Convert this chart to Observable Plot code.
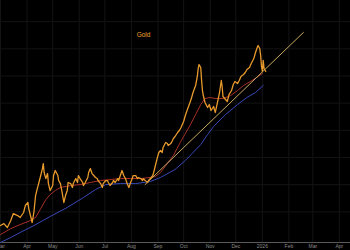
<!DOCTYPE html>
<html><head><meta charset="utf-8">
<script src="https://cdn.jsdelivr.net/npm/d3@7"></script>
<script src="https://cdn.jsdelivr.net/npm/@observablehq/plot@0.6"></script>
<style>html,body{margin:0;padding:0;background:#000;overflow:hidden}</style>
</head><body><div id="chart"></div>
<script>
const title = "Gold";

const priceDates = ["2025-03-01","2025-03-05","2025-03-09","2025-03-13","2025-03-16","2025-03-21","2025-03-24","2025-03-28","2025-03-30","2025-04-02","2025-04-03","2025-04-07","2025-04-09","2025-04-11","2025-04-13","2025-04-14","2025-04-17","2025-04-19","2025-04-20","2025-04-21","2025-04-23","2025-04-25","2025-04-26","2025-04-28","2025-05-01","2025-05-02","2025-05-04","2025-05-07","2025-05-08","2025-05-10","2025-05-12","2025-05-14","2025-05-16","2025-05-18","2025-05-19","2025-05-22","2025-05-24","2025-05-25","2025-05-28","2025-05-30","2025-05-31","2025-06-02","2025-06-05","2025-06-06","2025-06-08","2025-06-11","2025-06-12","2025-06-14","2025-06-16","2025-06-18","2025-06-20","2025-06-22","2025-06-23","2025-06-26","2025-06-28","2025-06-29","2025-07-02","2025-07-04","2025-07-05","2025-07-07","2025-07-10","2025-07-11","2025-07-13","2025-07-16","2025-07-17","2025-07-19","2025-07-21","2025-07-23","2025-07-25","2025-07-27","2025-07-29","2025-07-31","2025-08-02","2025-08-03","2025-08-06","2025-08-08","2025-08-09","2025-08-12","2025-08-14","2025-08-15","2025-08-17","2025-08-20","2025-08-21","2025-08-23","2025-08-26","2025-08-27","2025-08-29","2025-08-31","2025-09-02","2025-09-04","2025-09-06","2025-09-07","2025-09-10","2025-09-12","2025-09-13","2025-09-16","2025-09-18","2025-09-19","2025-09-21","2025-09-24","2025-09-26","2025-09-28","2025-10-01","2025-10-03","2025-10-05","2025-10-08","2025-10-10","2025-10-12","2025-10-15","2025-10-17","2025-10-18","2025-10-19","2025-10-21","2025-10-22","2025-10-23","2025-10-24","2025-10-26","2025-10-29","2025-10-31","2025-11-02","2025-11-05","2025-11-07","2025-11-09","2025-11-12","2025-11-14","2025-11-15","2025-11-16","2025-11-19","2025-11-21","2025-11-23","2025-11-26","2025-11-28","2025-11-30","2025-12-03","2025-12-05","2025-12-07","2025-12-10","2025-12-12","2025-12-14","2025-12-17","2025-12-19","2025-12-22","2025-12-24","2025-12-26","2025-12-27","2025-12-29","2025-12-30","2025-12-31","2026-01-01","2026-01-02","2026-01-03","2026-01-05"];
const priceValues = [2874,2892,2856,2920,2984,2966,2948,2994,3058,3086,3030,2902,2994,3150,3214,3242,3334,3398,3444,3362,3306,3352,3260,3196,3242,3334,3380,3334,3288,3260,3178,3086,3150,3196,3270,3260,3224,3260,3306,3270,3334,3306,3270,3242,3270,3316,3362,3398,3352,3334,3316,3306,3288,3260,3224,3260,3288,3288,3270,3242,3270,3288,3270,3306,3288,3334,3380,3334,3306,3260,3224,3270,3306,3334,3334,3306,3316,3306,3288,3306,3288,3270,3288,3306,3334,3362,3426,3490,3546,3564,3546,3592,3638,3628,3610,3628,3656,3674,3693,3730,3748,3776,3831,3886,3932,3996,4042,4098,4162,4245,4318,4355,4328,4208,4116,4070,4006,3960,3987,3932,3969,3914,3987,4098,4208,4153,4061,4033,4015,4079,4116,4171,4199,4180,4208,4245,4263,4282,4309,4328,4364,4410,4466,4512,4530,4502,4438,4337,4291,4392,4318,4291];

const fastDates = ["2025-03-01","2025-03-13","2025-03-24","2025-04-05","2025-04-11","2025-04-17","2025-04-23","2025-04-28","2025-05-04","2025-05-10","2025-05-22","2025-06-02","2025-06-14","2025-06-26","2025-07-07","2025-07-19","2025-07-31","2025-08-12","2025-08-23","2025-08-29","2025-09-04","2025-09-12","2025-09-19","2025-09-27","2025-10-03","2025-10-09","2025-10-15","2025-10-21","2025-10-26","2025-11-01","2025-11-07","2025-11-16","2025-11-25","2025-12-03","2025-12-10","2025-12-20","2026-01-01"];
const fastValues = [2791,2846,2883,2920,2948,3030,3113,3159,3196,3224,3242,3251,3270,3288,3297,3306,3306,3306,3316,3325,3362,3444,3518,3638,3720,3803,3895,3987,4042,4052,4042,4042,4070,4116,4162,4208,4272];

const slowDates = ["2025-03-01","2025-03-13","2025-03-24","2025-04-09","2025-04-28","2025-05-18","2025-06-06","2025-06-20","2025-07-02","2025-07-19","2025-08-06","2025-08-23","2025-09-04","2025-09-21","2025-10-03","2025-10-11","2025-10-21","2025-10-29","2025-11-05","2025-11-19","2025-12-03","2025-12-14","2025-12-24","2026-01-02"];
const slowValues = [2718,2764,2810,2874,2957,3040,3132,3205,3251,3260,3260,3279,3316,3390,3472,3537,3619,3711,3785,3895,3987,4052,4098,4162];

const trendDates = ["2025-08-17","2026-02-18"];
const trendValues = [3251,4650];

const tickDates = ["2025-03-01","2025-04-01","2025-05-01","2025-06-01","2025-07-01","2025-08-01","2025-09-01","2025-10-01","2025-11-01","2025-12-01","2026-01-01","2026-02-01","2026-03-01","2026-04-01"];
const tickLabels = ["Mar","Apr","May","Jun","Jul","Aug","Sep","Oct","Nov","Dec","2026","Feb","Mar","Apr"];
const gridValues = [3000,3250,3500,3750,4000,4250,4500,4750];
const yDomain = [2718,4944];
const xDomain = ["2025-03-01","2026-04-14"];

const pd = d3.utcParse("%Y-%m-%d");
const toRows = (ds, vs) => ds.map((d,i) => ({date: pd(d), value: vs[i]}));
const price = toRows(priceDates, priceValues);
const fast = toRows(fastDates, fastValues);
const slow = toRows(slowDates, slowValues);
const trend = toRows(trendDates, trendValues);
const ticks = tickDates.map(pd);
const labelMap = new Map(ticks.map((d,i) => [+d, tickLabels[i]]));

const chart = Plot.plot({
  width: 350, height: 250,
  marginTop: 0, marginRight: 0, marginBottom: 8, marginLeft: 0,
  style: {background: "#000", fontFamily: "Liberation Sans, Arial, sans-serif", overflow: "visible"},
  x: {type: "utc", domain: xDomain.map(pd)},
  y: {domain: yDomain, axis: null},
  marks: [
    Plot.ruleX(ticks, {stroke: "#141414", strokeWidth: 1}),
    Plot.ruleY(gridValues, {stroke: "#131313", strokeWidth: 1}),
    Plot.ruleY([yDomain[0]], {stroke: "#5a5a5a", strokeWidth: 1}),
    Plot.axisX({ticks: ticks, tickFormat: d => labelMap.get(+d), tickSize: 0, tickPadding: 2, fontSize: 5, fill: "#8c8c8c", label: null}),
    Plot.line(slow, {x: "date", y: "value", stroke: "#3848b8", strokeWidth: 1}),
    Plot.line(fast, {x: "date", y: "value", stroke: "#a83028", strokeWidth: 1}),
    Plot.line(trend, {x: "date", y: "value", stroke: "#c8aa60", strokeWidth: 1}),
    Plot.line(price, {x: "date", y: "value", stroke: "#e89a2c", strokeWidth: 1.3}),
    Plot.text([title], {frameAnchor: "top-left", dx: 143, dy: 32, fill: "#f0a030", fontSize: 6.5, textAnchor: "middle"})
  ]
});
document.getElementById("chart").appendChild(chart);
</script>
</body></html>
